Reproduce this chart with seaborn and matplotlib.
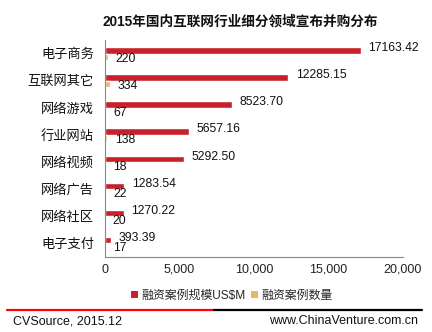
import matplotlib
matplotlib.use("Agg")
import matplotlib.pyplot as plt
import seaborn as sns
import pandas as pd
from matplotlib.lines import Line2D
from matplotlib.patches import Patch

categories = ["电子商务", "互联网其它", "网络游戏", "行业网站", "网络视频", "网络广告", "网络社区", "电子支付"]
amount = [17163.42, 12285.15, 8523.70, 5657.16, 5292.50, 1283.54, 1270.22, 393.39]
count = [220, 334, 67, 138, 18, 22, 20, 17]
series = ["融资案例规模US$M", "融资案例数量"]
xticks = [0, 5000, 10000, 15000, 20000]
xtick_labels = ["0", "5,000", "10,000", "15,000", "20,000"]

RED = "#C9202B"
ORANGE = "#E8B76A"

sns.set_theme(style="white")
plt.rcParams['font.family'] = ['Liberation Sans', 'Noto Sans CJK SC']

df = pd.DataFrame({
    "cat": categories * 2,
    "val": amount + count,
    "series": [series[0]] * len(categories) + [series[1]] * len(categories),
})

fig = plt.figure(figsize=(4.32, 3.32), dpi=100)
ax = fig.add_axes([105 / 432, 1 - 257 / 332, 298 / 432, 217 / 332])

sns.barplot(data=df, y="cat", x="val", hue="series", order=categories,
            hue_order=series, palette=[RED, ORANGE], orient="h",
            width=0.48, gap=0, ax=ax, legend=False, saturation=1)

ax.set_xlim(0, 20000)
ax.set_xticks(xticks)
ax.set_xticklabels(xtick_labels, fontsize=9, color="#222222")
ax.set_xlabel("")
ax.set_ylabel("")
ax.tick_params(axis="y", labelsize=9.5, length=0, pad=8, colors="#111111")
ax.tick_params(axis="x", length=0, pad=5)
for s in ["top", "right"]:
    ax.spines[s].set_visible(False)
for s in ["left", "bottom"]:
    ax.spines[s].set_color("#888888")
    ax.spines[s].set_linewidth(0.8)

# value labels
for cont, vals, fmt, dy in zip(ax.containers, [amount, count], ["{:.2f}", "{:d}"], [1.6, -1.3]):
    for bar, v in zip(cont, vals):
        x = bar.get_width()
        y = bar.get_y() + bar.get_height() / 2
        ax.annotate(fmt.format(v), (x, y), xytext=(5.5, dy), textcoords="offset points",
                    va="center", ha="left", fontsize=8.7, color="#111111")

fig.text(240 / 432, 1 - 22 / 332, "2015年国内互联网行业细分领域宣布并购分布", ha="center", va="center",
         fontsize=9.8, fontweight="bold", color="#111111")

handles = [Patch(facecolor=RED, edgecolor="none"), Patch(facecolor=ORANGE, edgecolor="none")]
fig.legend(handles, series, loc="center", bbox_to_anchor=(232 / 432, 1 - 296 / 332),
           ncol=2, frameon=False, fontsize=8.6, handlelength=0.55, handleheight=0.55,
           handletextpad=0.3, columnspacing=0.5, borderaxespad=0)

yl = 1 - 310 / 332
fig.add_artist(Line2D([7 / 432, 214 / 432], [yl, yl], color="#FF0000", lw=1.6, transform=fig.transFigure))
fig.add_artist(Line2D([214 / 432, 422 / 432], [yl, yl], color="#000000", lw=1.6, transform=fig.transFigure))
fig.text(13 / 432, 1 - 321 / 332, "CVSource, 2015.12", ha="left", va="center", fontsize=9, color="#111111")
fig.text(418 / 432, 1 - 321 / 332, "www.ChinaVenture.com.cn", ha="right", va="center", fontsize=9, color="#111111")

fig.savefig("out.png", dpi=100)
